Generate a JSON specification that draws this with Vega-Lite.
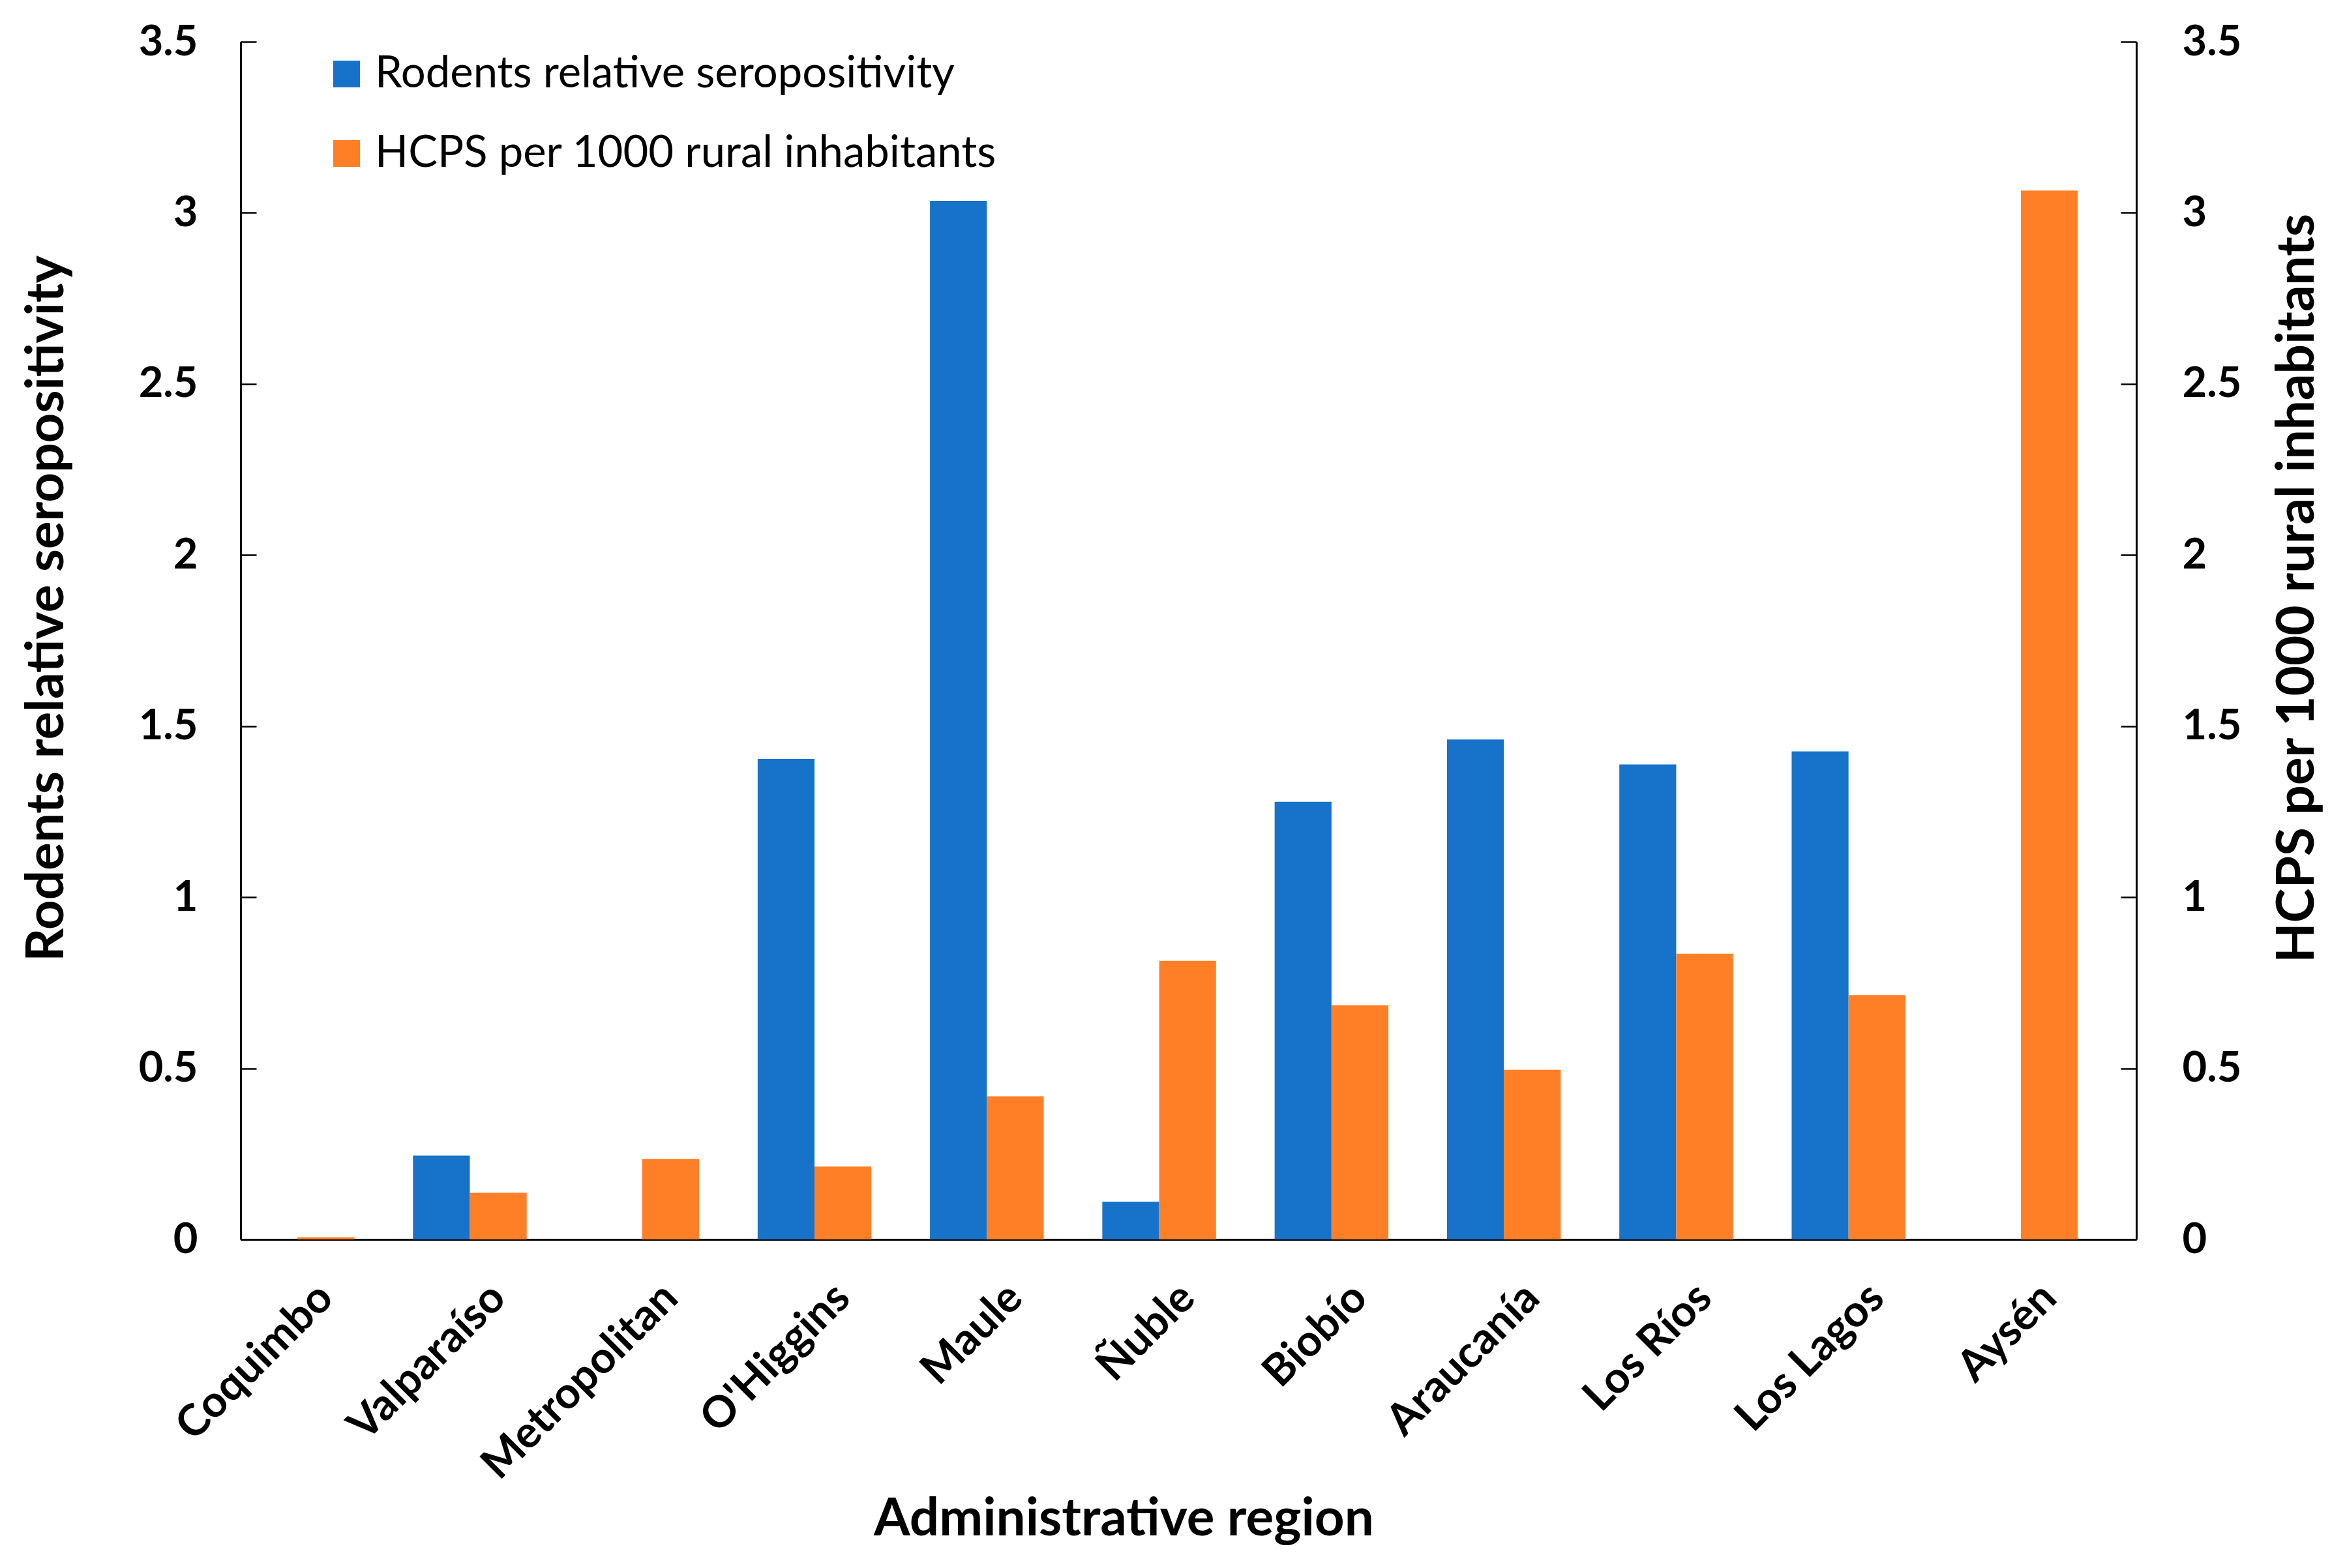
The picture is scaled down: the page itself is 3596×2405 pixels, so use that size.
{
  "$schema": "https://vega.github.io/schema/vega-lite/v6.json",
  "autosize": {"type": "none"},
  "width": 2907,
  "height": 1837,
  "padding": {"left": 369, "top": 64, "right": 320, "bottom": 504},
  "background": "white",
  "config": {
    "view": {"stroke": null},
    "font": "Lato",
    "axis": {
      "labelFont": "Lato",
      "labelFontWeight": "bold",
      "labelFontSize": 65,
      "labelColor": "black",
      "labelLimit": 2000,
      "titleFont": "Lato",
      "titleFontWeight": "bold",
      "titleFontSize": 80,
      "titleColor": "black",
      "titleLimit": 3000,
      "domainColor": "black",
      "domainWidth": 3,
      "tickColor": "black",
      "tickWidth": 2.5,
      "grid": false
    },
    "legend": {
      "labelFont": "Lato",
      "labelFontSize": 67,
      "labelColor": "black",
      "labelLimit": 2000
    }
  },
  "data": {
    "values": [
      {"region": "Coquimbo", "series": "Rodents relative seropositivity", "value": 0},
      {"region": "Coquimbo", "series": "HCPS per 1000 rural inhabitants", "value": 0.006},
      {"region": "Valparaíso", "series": "Rodents relative seropositivity", "value": 0.245},
      {"region": "Valparaíso", "series": "HCPS per 1000 rural inhabitants", "value": 0.136},
      {"region": "Metropolitan", "series": "Rodents relative seropositivity", "value": 0},
      {"region": "Metropolitan", "series": "HCPS per 1000 rural inhabitants", "value": 0.235},
      {"region": "O'Higgins", "series": "Rodents relative seropositivity", "value": 1.404},
      {"region": "O'Higgins", "series": "HCPS per 1000 rural inhabitants", "value": 0.213},
      {"region": "Maule", "series": "Rodents relative seropositivity", "value": 3.035},
      {"region": "Maule", "series": "HCPS per 1000 rural inhabitants", "value": 0.418},
      {"region": "Ñuble", "series": "Rodents relative seropositivity", "value": 0.11},
      {"region": "Ñuble", "series": "HCPS per 1000 rural inhabitants", "value": 0.814},
      {"region": "Biobío", "series": "Rodents relative seropositivity", "value": 1.279},
      {"region": "Biobío", "series": "HCPS per 1000 rural inhabitants", "value": 0.684},
      {"region": "Araucanía", "series": "Rodents relative seropositivity", "value": 1.461},
      {"region": "Araucanía", "series": "HCPS per 1000 rural inhabitants", "value": 0.496},
      {"region": "Los Ríos", "series": "Rodents relative seropositivity", "value": 1.388},
      {"region": "Los Ríos", "series": "HCPS per 1000 rural inhabitants", "value": 0.835},
      {"region": "Los Lagos", "series": "Rodents relative seropositivity", "value": 1.426},
      {"region": "Los Lagos", "series": "HCPS per 1000 rural inhabitants", "value": 0.714},
      {"region": "Aysén", "series": "Rodents relative seropositivity", "value": 0},
      {"region": "Aysén", "series": "HCPS per 1000 rural inhabitants", "value": 3.065}
    ]
  },
  "encoding": {
    "x": {
      "field": "region",
      "type": "nominal",
      "sort": null,
      "scale": {"paddingInner": 0.34, "paddingOuter": 0.17, "align": 0},
      "axis": {
        "title": "Administrative region",
        "labelAngle": -45,
        "labelAlign": "right",
        "labelBaseline": "middle",
        "labelOffset": 44,
        "labelPadding": 79,
        "labelFontSize": 67,
        "ticks": false,
        "titleX": 1354,
        "titleY": 453,
        "titleAlign": "center",
        "titleBaseline": "alphabetic"
      }
    },
    "xOffset": {
      "field": "series",
      "type": "nominal",
      "sort": ["Rodents relative seropositivity", "HCPS per 1000 rural inhabitants"],
      "scale": {"domain": ["Rodents relative seropositivity", "HCPS per 1000 rural inhabitants"], "paddingInner": 0, "paddingOuter": 0}
    },
    "color": {
      "field": "series",
      "type": "nominal",
      "scale": {
        "domain": ["Rodents relative seropositivity", "HCPS per 1000 rural inhabitants"],
        "range": ["#1773c9", "#ff7f27"]
      },
      "legend": {
        "title": null,
        "orient": "none",
        "legendX": 129,
        "legendY": 16,
        "symbolType": "square",
        "symbolSize": 1681,
        "symbolStrokeWidth": 0,
        "symbolOpacity": 1,
        "labelOffset": 10,
        "rowPadding": 54
      }
    }
  },
  "layer": [
    {
      "transform": [{"filter": "datum.series === 'Rodents relative seropositivity'"}],
      "mark": {"type": "bar"},
      "encoding": {
        "y": {
          "field": "value",
          "type": "quantitative",
          "scale": {"domain": [0, 3.5], "nice": false},
          "axis": {
            "title": "Rodents relative seropositivity",
            "orient": "left",
            "values": [0, 0.5, 1, 1.5, 2, 2.5, 3, 3.5],
            "format": "~g",
            "tickSize": -24,
            "labelPadding": 90,
            "titleAngle": -90,
            "titleX": -273,
            "titleY": 869,
            "titleAlign": "center",
            "titleBaseline": "alphabetic"
          }
        }
      }
    },
    {
      "transform": [{"filter": "datum.series === 'HCPS per 1000 rural inhabitants'"}],
      "mark": {"type": "bar"},
      "encoding": {
        "y": {
          "field": "value",
          "type": "quantitative",
          "scale": {"domain": [0, 3.5], "nice": false},
          "axis": {
            "title": "HCPS per 1000 rural inhabitants",
            "orient": "right",
            "values": [0, 0.5, 1, 1.5, 2, 2.5, 3, 3.5],
            "format": "~g",
            "tickSize": -24,
            "labelPadding": 94,
            "titleAngle": -90,
            "titleX": 271,
            "titleY": 838,
            "titleAlign": "center",
            "titleBaseline": "alphabetic"
          }
        }
      }
    }
  ],
  "resolve": {"scale": {"y": "independent"}}
}
